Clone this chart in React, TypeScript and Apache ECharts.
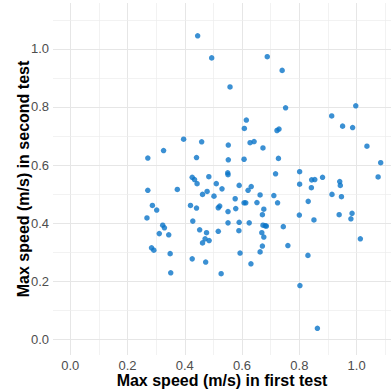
import React, { useEffect, useRef } from "react";
import * as echarts from "echarts";

// Max speed (m/s) in first test
const firstTest: number[] = [
  0.445, 0.494, 0.558, 0.615, 0.608, 0.688, 0.74, 0.752, 0.997, 0.913,
  0.951, 0.986, 0.722, 0.729, 0.459, 0.552, 0.628, 0.642, 0.673, 1.036,
  0.441, 0.552, 0.607, 0.727, 1.084, 0.426, 0.434, 0.443, 0.484, 0.55,
  0.551, 0.51, 0.59, 0.632, 0.621, 0.53, 0.717, 0.801, 0.801, 0.843,
  0.854, 0.881, 0.941, 0.943, 1.075, 0.842, 0.462, 0.478, 0.502, 0.663,
  0.711, 0.914, 0.947, 0.576, 0.831, 0.396, 0.326, 0.271, 0.271, 0.374,
  0.287, 0.42, 0.607, 0.613, 0.652, 0.724, 0.441, 0.428, 0.452, 0.476,
  0.462, 0.471, 0.485, 0.517, 0.522, 0.551, 0.578, 0.551, 0.59, 0.625,
  0.589, 0.517, 0.593, 0.631, 0.527, 0.426, 0.473, 0.671, 0.676, 0.673,
  0.681, 0.685, 0.669, 0.676, 0.671, 0.663, 0.744, 0.76, 0.8, 0.851,
  0.83, 0.802, 0.863, 0.939, 0.984, 0.98, 1.013, 0.302, 0.268, 0.323,
  0.329, 0.311, 0.344, 0.284, 0.292, 0.349, 0.351,
];

// Max speed (m/s) in second test
const secondTest: number[] = [
  1.045, 0.969, 0.869, 0.755, 0.726, 0.973, 0.926, 0.797, 0.804, 0.769,
  0.734, 0.729, 0.719, 0.724, 0.68, 0.669, 0.677, 0.681, 0.659, 0.665,
  0.626, 0.618, 0.62, 0.623, 0.608, 0.558, 0.55, 0.536, 0.56, 0.573,
  0.567, 0.536, 0.53, 0.526, 0.513, 0.518, 0.57, 0.577, 0.534, 0.549,
  0.55, 0.558, 0.543, 0.53, 0.559, 0.522, 0.499, 0.509, 0.493, 0.497,
  0.495, 0.499, 0.491, 0.484, 0.475, 0.689, 0.65, 0.624, 0.513, 0.516,
  0.461, 0.461, 0.47, 0.47, 0.471, 0.47, 0.452, 0.407, 0.377, 0.367,
  0.332, 0.346, 0.34, 0.453, 0.459, 0.44, 0.45, 0.401, 0.403, 0.401,
  0.374, 0.372, 0.297, 0.26, 0.226, 0.277, 0.266, 0.429, 0.448, 0.393,
  0.391, 0.39, 0.367, 0.352, 0.321, 0.301, 0.388, 0.323, 0.428, 0.411,
  0.289, 0.185, 0.038, 0.429, 0.434, 0.415, 0.346, 0.445, 0.418, 0.393,
  0.384, 0.364, 0.36, 0.315, 0.307, 0.295, 0.229,
];

const xTickLabels: number[] = [0, 0.2, 0.4, 0.6, 0.8, 1.0];
const yTickLabels: number[] = [0, 0.2, 0.4, 0.6, 0.8, 1.0];
const xMinorGrid: number[] = [0.1, 0.3, 0.5, 0.7, 0.9, 1.1];
const yMinorGrid: number[] = [0.1, 0.3, 0.5, 0.7, 0.9, 1.1];

const xTitle = "Max speed (m/s) in first test";
const yTitle = "Max speed (m/s) in second test";

const FONT = "'Liberation Sans', Arial, sans-serif";

export default function App() {
  const ref = useRef<HTMLDivElement>(null);

  useEffect(() => {
    document.body.style.margin = "0";
    if (!ref.current) return;
    const chart = echarts.init(ref.current, undefined, { renderer: "svg" });

    const majorStyle = { color: "#e6e6e6", width: 1, type: "solid" as const };
    const minorStyle = { color: "#ececec", width: 0.7, type: "solid" as const };

    const gridLines: any[] = [
      ...xTickLabels.map((v) => ({ xAxis: v, lineStyle: majorStyle })),
      ...xMinorGrid.map((v) => ({ xAxis: v, lineStyle: minorStyle })),
      ...yTickLabels.map((v) => ({ yAxis: v, lineStyle: majorStyle })),
      ...yMinorGrid.map((v) => ({ yAxis: v, lineStyle: minorStyle })),
    ];

    const points = firstTest.map((x, i) => [x, secondTest[i]]);

    chart.setOption({
      animation: false,
      grid: {
        left: 53,
        right: 0,
        top: 3,
        bottom: 35,
        containLabel: false,
        outerBoundsMode: "none",
      },
      xAxis: {
        type: "value",
        min: -0.06,
        max: 1.12,
        axisLine: { show: false },
        axisTick: { show: false },
        splitLine: { show: false },
        axisLabel: {
          customValues: xTickLabels,
          formatter: (v: number) => v.toFixed(1),
          color: "#4d4d4d",
          fontSize: 13,
          fontFamily: FONT,
          margin: 4,
        },
        name: xTitle,
        nameLocation: "middle",
        nameGap: 17,
        nameMoveOverlap: false,
        nameTextStyle: {
          color: "#000000",
          fontSize: 16,
          fontWeight: "bold",
          fontFamily: FONT,
        },
      },
      yAxis: {
        type: "value",
        min: -0.054,
        max: 1.158,
        axisLine: { show: false },
        axisTick: { show: false },
        splitLine: { show: false },
        axisLabel: {
          customValues: yTickLabels,
          formatter: (v: number) => v.toFixed(1),
          color: "#4d4d4d",
          fontSize: 13,
          fontFamily: FONT,
          margin: 4,
        },
        name: yTitle,
        nameLocation: "middle",
        nameGap: 22,
        nameMoveOverlap: false,
        nameTextStyle: {
          color: "#000000",
          fontSize: 16,
          fontWeight: "bold",
          fontFamily: FONT,
        },
      },
      series: [
        {
          type: "scatter",
          data: [],
          z: 1,
          silent: true,
          markLine: {
            silent: true,
            z: 0,
            symbol: ["none", "none"],
            label: { show: false },
            emphasis: { disabled: true },
            data: gridLines,
          },
        },
        {
          type: "scatter",
          z: 3,
          data: points,
          symbolSize: 5.5,
          itemStyle: { color: "#0a74c8", opacity: 0.8 },
        },
      ],
    });

    return () => chart.dispose();
  }, []);

  return <div ref={ref} style={{ width: 391, height: 390 }} />;
}
